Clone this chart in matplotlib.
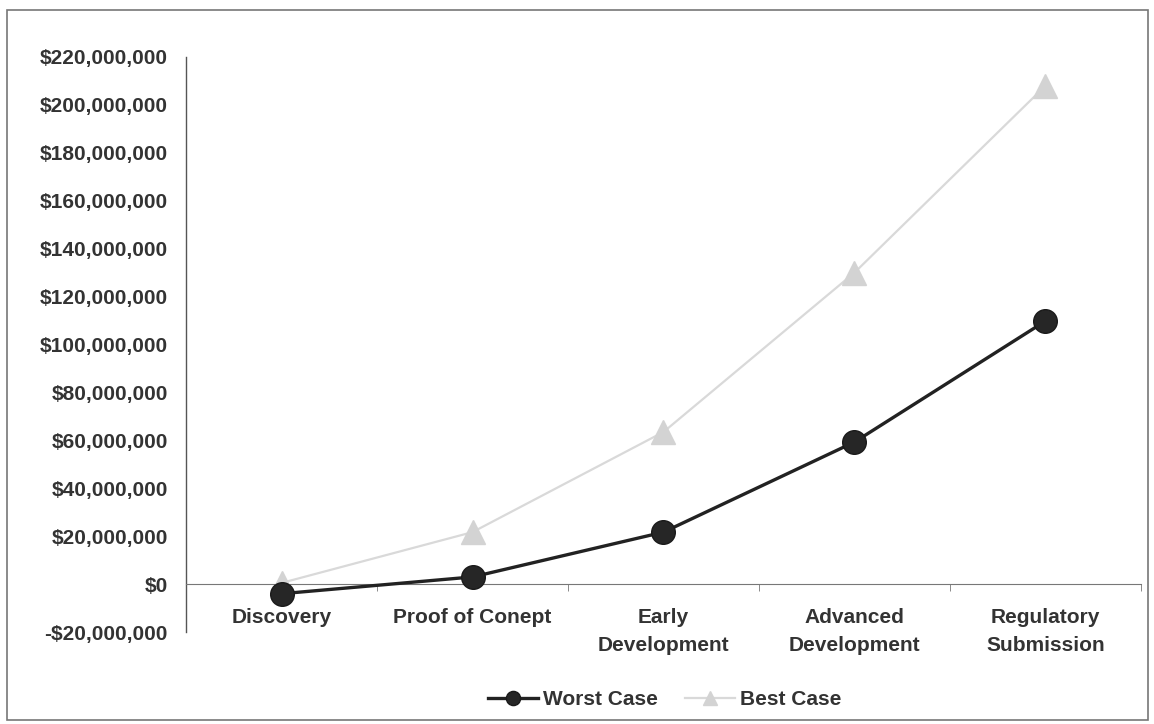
import matplotlib
matplotlib.use("Agg")
import matplotlib.pyplot as plt
from matplotlib.patches import Rectangle
from matplotlib.ticker import FuncFormatter, MultipleLocator

plt.rcParams['font.family'] = ['Liberation Sans', 'DejaVu Sans']
plt.rcParams['font.weight'] = 'bold'

# data
stages = ['Discovery', 'Proof of Conept', 'Early\nDevelopment',
          'Advanced\nDevelopment', 'Regulatory\nSubmission']
worst_case = [-4e6, 3e6, 21.7e6, 59.3e6, 109.8e6]
best_case = [0.5e6, 21.7e6, 63.5e6, 130e6, 208e6]

fig = plt.figure(figsize=(11.54, 7.24), dpi=100)
ax = fig.add_axes([0.1612, 0.127, 0.8275, 0.7943])

x = list(range(len(stages)))
ax.plot(x, best_case, color='#d9d9d9', lw=1.6, marker='^', ms=17,
        mfc='#d3d3d3', mec='#d3d3d3', label='Best Case', zorder=3)
ax.plot(x, worst_case, color='#222222', lw=2.4, marker='o', ms=17,
        mfc='#262626', mec='#1a1a1a', label='Worst Case', zorder=4)

ax.set_xlim(-0.5, 4.5)
ax.set_ylim(-20e6, 220e6)
ax.yaxis.set_major_locator(MultipleLocator(20e6))
ax.yaxis.set_major_formatter(FuncFormatter(
    lambda v, p: ('-$' if v < 0 else '$') + f'{abs(v):,.0f}'))

for s in ['top', 'right']:
    ax.spines[s].set_visible(False)
ax.spines['left'].set_color('#555555')
ax.spines['left'].set_linewidth(1)
ax.spines['bottom'].set_position(('data', 0))
ax.spines['bottom'].set_color('#777777')
ax.spines['bottom'].set_linewidth(0.8)

ax.set_xticks(x)
ax.set_xticklabels(stages, fontsize=15, fontweight='bold', color='#333333',
                   linespacing=1.65)
ax.set_xticks([i + 0.5 for i in x], minor=True)
ax.tick_params(axis='x', which='major', length=0, pad=17)
ax.tick_params(axis='x', which='minor', length=5, color='#777777')
ax.tick_params(axis='y', length=0, pad=13, labelsize=15, labelcolor='#333333')

handles, labels = ax.get_legend_handles_labels()
fig.legend(handles[::-1], labels[::-1], loc='center', bbox_to_anchor=(0.576, 0.034),
           ncol=2, frameon=False, fontsize=15, markerscale=0.6,
           handlelength=2.4, columnspacing=1.3, handletextpad=0.25,
           labelcolor='#333333')

fig.patches.append(Rectangle((0.006, 0.0055), 0.989, 0.98, transform=fig.transFigure,
                             fill=False, edgecolor='#777777', lw=1.2))

fig.savefig('out.png', dpi=100)
